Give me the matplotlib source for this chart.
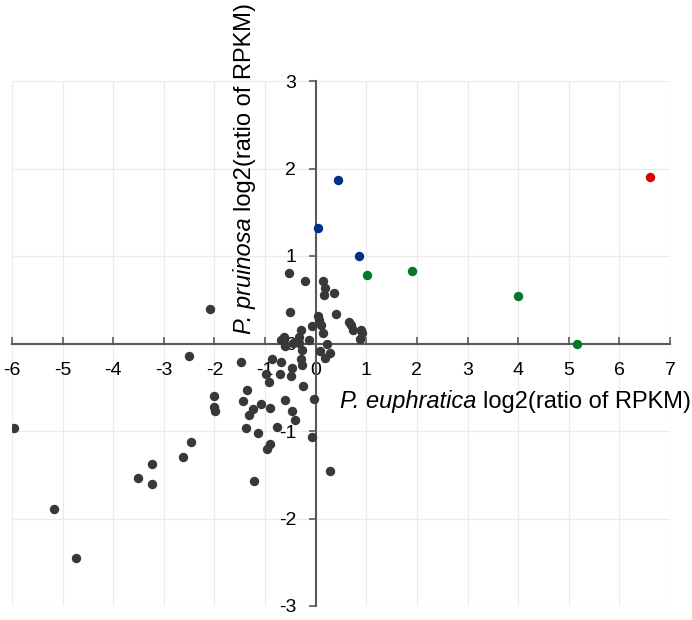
import matplotlib
matplotlib.use("Agg")
import matplotlib.pyplot as plt
import numpy as np

plt.rcParams['font.family'] = ['Liberation Sans', 'DejaVu Sans']

# Gray (other genes)
gray_x = [-5.97, -5.17, -4.73, -3.51, -3.24, -3.23, -2.63, -2.46, -2.51, -2.09,
          -2.00, -2.00, -1.98, -1.22, 0.28,
          -1.47, -1.36, -1.44, -1.24, -1.32, -1.08, -0.90, -1.37, -1.13, -0.77,
          -0.08, -0.90, -0.96, -0.61, -0.47, -0.40, -0.03, -0.26, -0.98, -0.92,
          -0.70, -0.86, -0.68, -0.47, -0.48, -0.28, -0.30, -0.28, -0.32, -0.45,
          -0.61, -0.68, -0.63, -0.13, 0.22, 0.08, 0.28, 0.18,
          -0.53, -0.22, 0.15, 0.18, 0.16, 0.36, -0.51, 0.41, 0.05, 0.07,
          -0.07, 0.11, 0.15, -0.30, 0.65, 0.69, 0.74, 0.90, 0.92, 0.87, -0.32]
gray_y = [-0.96, -1.89, -2.45, -1.54, -1.60, -1.38, -1.30, -1.13, -0.14, 0.40,
          -0.60, -0.72, -0.77, -1.57, -1.46,
          -0.21, -0.53, -0.66, -0.75, -0.82, -0.69, -0.74, -0.96, -1.02, -0.95,
          -1.07, -1.15, -1.21, -0.65, -0.77, -0.87, -0.63, -0.48, -0.35, -0.44,
          -0.35, -0.18, -0.21, -0.28, -0.37, -0.25, -0.18, -0.07, 0.01, 0.01,
          -0.03, 0.04, 0.07, 0.04, 0.00, -0.09, -0.11, -0.16,
          0.81, 0.71, 0.72, 0.63, 0.55, 0.58, 0.36, 0.34, 0.31, 0.27,
          0.20, 0.21, 0.12, 0.16, 0.25, 0.21, 0.16, 0.16, 0.12, 0.05, 0.08]

blue_x = [0.44, 0.05, 0.86]
blue_y = [1.87, 1.32, 1.00]
green_x = [1.02, 1.91, 3.99, 5.17]
green_y = [0.78, 0.83, 0.54, 0.00]
red_x = [6.60]
red_y = [1.90]

xticks = [-6, -5, -4, -3, -2, -1, 0, 1, 2, 3, 4, 5, 6, 7]
yticks = [-3, -2, -1, 0, 1, 2, 3]

fig = plt.figure(figsize=(6.92, 6.2), dpi=100)
ax = fig.add_axes([12/692, 1-606/620, (670-12)/692, (606-81)/620])

ms = 46
ax.scatter(gray_x, gray_y, s=ms, color='#383838', zorder=3, linewidths=0)
ax.scatter(blue_x, blue_y, s=ms, color='#003087', zorder=3, linewidths=0)
ax.scatter(green_x, green_y, s=ms, color='#007a2a', zorder=3, linewidths=0)
ax.scatter(red_x, red_y, s=ms, color='#e00000', zorder=3, linewidths=0)

ax.set_xlim(-6, 7)
ax.set_ylim(-3, 3)
ax.set_xticks(xticks)
ax.set_yticks(yticks)
ax.set_xticklabels([str(t) for t in xticks])
ax.set_yticklabels([str(t) for t in yticks])

ax.grid(True, color='#ebebeb', linewidth=0.8, zorder=0)
ax.set_axisbelow(True)

for s in ['top', 'right']:
    ax.spines[s].set_visible(False)
ax.spines['left'].set_position(('data', 0))
ax.spines['bottom'].set_position(('data', 0))
for s in ['left', 'bottom']:
    ax.spines[s].set_color('#5a5a5a')
    ax.spines[s].set_linewidth(1.5)
    ax.spines[s].set_zorder(2)

ax.tick_params(axis='x', direction='in', length=5, width=1.2, color='#5a5a5a',
               labelsize=14, pad=13.5)
ax.tick_params(axis='y', direction='out', length=5, width=1.2, color='#5a5a5a',
               labelsize=14, pad=9)
for lab in ax.get_xticklabels() + ax.get_yticklabels():
    lab.set_zorder(4)

fs = 17
gap = 0.278 * fs
# x-axis label
tx1 = fig.text(340/692, 1-413/620, "P. euphratica", style='italic',
               ha='left', va='bottom', fontsize=fs)
ax.annotate("log2(ratio of RPKM)", xy=(1, 0), xycoords=tx1,
            xytext=(gap, 0), textcoords='offset points',
            ha='left', va='bottom', fontsize=fs, annotation_clip=False)
# y-axis label
ty1 = fig.text(256/692, 1-334/620, "P. pruinosa", style='italic',
               ha='left', va='bottom', rotation=90, rotation_mode='anchor',
               fontsize=fs)
ax.annotate("log2(ratio of RPKM)", xy=(1, 1), xycoords=ty1,
            xytext=(0, gap), textcoords='offset points',
            ha='left', va='bottom', rotation=90, rotation_mode='anchor',
            fontsize=fs, annotation_clip=False)

fig.savefig('out.png', dpi=100)
